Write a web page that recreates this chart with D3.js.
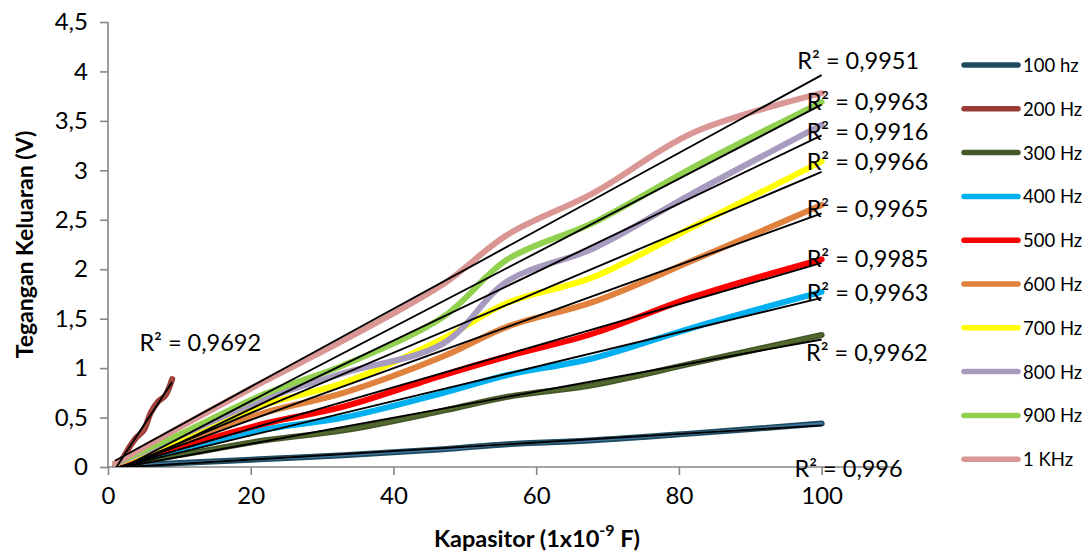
<!DOCTYPE html>
<html><head><meta charset="utf-8">
<script src="https://cdn.jsdelivr.net/npm/d3@7"></script>
<style>
body{margin:0;background:#fff}
svg{display:block}
text{font-family:Lato,'Open Sans',sans-serif;fill:#000}
</style>
</head><body>
<svg id="chart" width="1086" height="554"></svg>
<script>
// ---------- DATA ----------
const seriesNames = ["100 hz","200 Hz","300 Hz","400 Hz","500 Hz","600 Hz","700 Hz","800 Hz","900 Hz","1 KHz"];
const capacitorX = [1, 10, 22, 33, 47, 56, 68, 82, 100];   // nF
const indexX = [1, 2, 3, 4, 5, 6, 7, 8, 9];                 // 200 Hz series plotted against index
const v100 = [0.005, 0.04, 0.08, 0.12, 0.18, 0.23, 0.27, 0.34, 0.44];
const v200 = [0.01, 0.08, 0.20, 0.30, 0.37, 0.55, 0.66, 0.72, 0.89];
const v300 = [0.01, 0.12, 0.27, 0.37, 0.57, 0.71, 0.83, 1.05, 1.335];
const v400 = [0.02, 0.17, 0.38, 0.50, 0.75, 0.93, 1.10, 1.41, 1.77];
const v500 = [0.02, 0.20, 0.44, 0.61, 0.93, 1.12, 1.35, 1.72, 2.10];
const v600 = [0.03, 0.25, 0.55, 0.75, 1.12, 1.42, 1.67, 2.09, 2.65];
const v700 = [0.03, 0.28, 0.63, 0.85, 1.30, 1.66, 1.92, 2.43, 3.09];
const v800 = [0.03, 0.31, 0.69, 0.95, 1.25, 1.88, 2.21, 2.77, 3.46];
const v900 = [0.04, 0.33, 0.74, 1.03, 1.52, 2.10, 2.47, 3.03, 3.69];
const v1k  = [0.04, 0.40, 0.87, 1.28, 1.85, 2.35, 2.77, 3.38, 3.78];
const r2Text = ["R² = 0,996","R² = 0,9692","R² = 0,9962","R² = 0,9963","R² = 0,9985","R² = 0,9965","R² = 0,9966","R² = 0,9916","R² = 0,9963","R² = 0,9951"];
const xTicks = [0, 20, 40, 60, 80, 100];
const yTicks = [0, 0.5, 1, 1.5, 2, 2.5, 3, 3.5, 4, 4.5];

// ---------- STYLE / LAYOUT ----------
const outerColors = ["#1F4B5E","#9A3B37","#46582A","#00B0F0","#FF0000","#E0823D","#FFFF00","#A89BC0","#92D050","#D99694"];
const innerColors = ["#3F77A3","#AD4A46","#536A2D",null,null,null,null,null,null,null];
// R² label anchors (data units: left x, middle y)
const r2Anchor = [[96.2,-0.01],[4.4,1.26],[97.8,1.16],[97.9,1.77],[97.9,2.11],[97.9,2.62],[97.9,3.09],[97.9,3.40],[97.9,3.70],[96.6,4.115]];

const plot = {left:108, top:22, right:893, bottom:467};
const svg = d3.select("#chart");

const x = d3.scaleLinear().domain([0,110]).range([plot.left, plot.right]);
const y = d3.scaleLinear().domain([0,4.5]).range([plot.bottom, plot.top]);

const allY = [v100,v200,v300,v400,v500,v600,v700,v800,v900,v1k];
const series = seriesNames.map((n,i)=>{
  const xs = i===1 ? indexX : capacitorX;
  return {name:n, pts: xs.map((xv,j)=>[xv, allY[i][j]]), outer: outerColors[i], inner: innerColors[i], r2: r2Text[i], anchor: r2Anchor[i]};
});

// linear regression (trendline)
function fit(pts){
  const mx = d3.mean(pts,d=>d[0]), my = d3.mean(pts,d=>d[1]);
  let sxy=0, sxx=0;
  pts.forEach(d=>{sxy+=(d[0]-mx)*(d[1]-my); sxx+=(d[0]-mx)**2;});
  const b = sxy/sxx, a = my - b*mx;
  const x0 = d3.min(pts,d=>d[0]), x1 = d3.max(pts,d=>d[0]);
  return [[x0, a+b*x0],[x1, a+b*x1]];
}

svg.append("defs").append("clipPath").attr("id","clip")
  .append("rect").attr("x",plot.left).attr("y",plot.top)
  .attr("width",plot.right-plot.left).attr("height",plot.bottom-plot.top);

// axes
const fmt = d => String(d).replace(".", ",");
const yAxis = d3.axisLeft(y).tickValues(yTicks).tickSize(8).tickPadding(12).tickFormat(fmt);
const gy = svg.append("g").attr("transform",`translate(${plot.left},0)`).call(yAxis);
const xAxis = d3.axisBottom(x).tickValues(xTicks).tickSize(8).tickPadding(12).tickFormat(fmt);
const gx = svg.append("g").attr("transform",`translate(0,${plot.bottom})`).call(xAxis);
[gx,gy].forEach(g=>{
  g.select(".domain").attr("stroke","#878787").attr("stroke-width",1.6);
  g.selectAll(".tick line").attr("stroke","#878787").attr("stroke-width",1.6);
  g.selectAll(".tick text").attr("font-size",24).attr("font-family","Lato").attr("fill","#000");
});
gx.select(".domain").attr("d",`M${plot.left-1},0H${plot.right}`);
gy.select(".domain").attr("d",`M0,${plot.bottom}V${plot.top}`);

// data lines
const line = d3.line().x(d=>x(d[0])).y(d=>y(d[1])).curve(d3.curveCatmullRom.alpha(0.5));
const gl = svg.append("g").attr("clip-path","url(#clip)");
series.forEach(s=>{
  gl.append("path").attr("d",line(s.pts)).attr("fill","none")
    .attr("stroke",s.outer).attr("stroke-width",6)
    .attr("stroke-linecap","round").attr("stroke-linejoin","round");
  if(s.inner){
    gl.append("path").attr("d",line(s.pts)).attr("fill","none")
      .attr("stroke",s.inner).attr("stroke-width",2.6)
      .attr("stroke-linecap","round").attr("stroke-linejoin","round");
  }
});
// trendlines
const tl = d3.line().x(d=>x(d[0])).y(d=>y(d[1]));
series.forEach(s=>{
  gl.append("path").attr("d",tl(fit(s.pts))).attr("fill","none")
    .attr("stroke","#000").attr("stroke-width",1.9);
});

// R² labels
series.forEach(s=>{
  svg.append("text").attr("x",x(s.anchor[0])).attr("y",y(s.anchor[1]))
    .attr("dominant-baseline","central").attr("font-size",23.5).text(s.r2);
});

// axis titles
svg.append("text").attr("x",537).attr("y",538).attr("text-anchor","middle")
  .attr("dominant-baseline","central").attr("font-weight","bold").attr("font-size",23.5)
  .html('Kapasitor (1x10<tspan dy="-9" font-size="16">-9</tspan><tspan dy="9"> F)</tspan>');
svg.append("text").attr("transform",`translate(24,${(plot.top+plot.bottom)/2}) rotate(-90)`)
  .attr("text-anchor","middle").attr("dominant-baseline","central")
  .attr("font-weight","bold").attr("font-size",23).text("Tegangan Keluaran (V)");

// legend
const lg = svg.append("g");
series.forEach((s,i)=>{
  const yy = 65 + i*43.8;
  lg.append("line").attr("x1",964).attr("x2",1018).attr("y1",yy).attr("y2",yy)
    .attr("stroke",s.outer).attr("stroke-width",5.5).attr("stroke-linecap","round");
  lg.append("text").attr("x",1023).attr("y",yy).attr("dominant-baseline","central")
    .attr("font-size",18.5).text(s.name);
});
</script>
</body></html>
